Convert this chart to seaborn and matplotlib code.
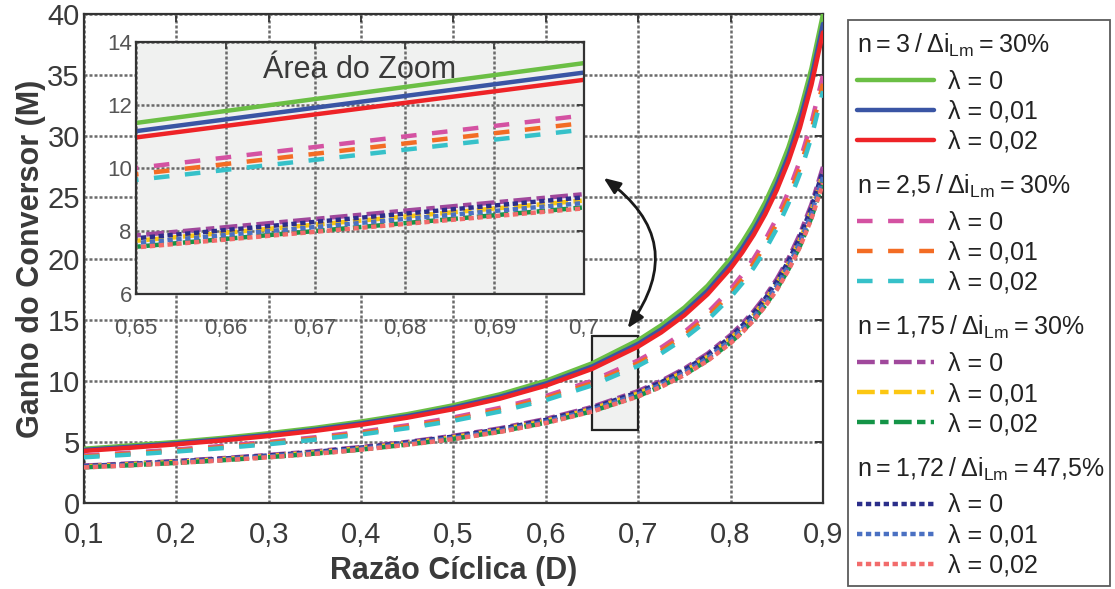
import numpy as np
import pandas as pd
import matplotlib
matplotlib.use("Agg")
import matplotlib.pyplot as plt
import seaborn as sns
from matplotlib.lines import Line2D
from matplotlib.patches import Rectangle
from matplotlib.offsetbox import DrawingArea

# ---------------- data ----------------
D = [0.10, 0.15, 0.20, 0.25, 0.30, 0.35, 0.40, 0.45, 0.50, 0.55, 0.60,
     0.65, 0.70, 0.725, 0.75, 0.775, 0.80, 0.8125, 0.825, 0.8375, 0.85,
     0.8625, 0.875, 0.8875, 0.90]

g1_l0 = [4.44, 4.71, 5.00, 5.33, 5.71, 6.15, 6.67, 7.27, 8.00, 8.89, 10.00, 11.43,
         13.33, 14.55, 16.00, 17.78, 20.00, 21.33, 22.86, 24.62, 26.67, 29.09, 32.00, 35.56, 40.00]
g1_l1 = [4.34, 4.60, 4.89, 5.21, 5.58, 6.01, 6.52, 7.11, 7.82, 8.69, 9.78, 11.17,
         13.03, 14.21, 15.64, 17.37, 19.55, 20.84, 22.33, 24.05, 26.07, 28.42, 31.30, 34.79, 39.20]
g1_l2 = [4.26, 4.52, 4.80, 5.12, 5.48, 5.90, 6.40, 6.98, 7.68, 8.53, 9.60, 10.97,
         12.80, 13.96, 15.36, 17.07, 19.20, 20.48, 21.94, 23.63, 25.60, 27.93, 30.70, 34.20, 38.50]
g2_l0 = [3.89, 4.12, 4.38, 4.67, 5.00, 5.38, 5.83, 6.36, 7.00, 7.78, 8.75, 10.00,
         11.67, 12.73, 14.00, 15.56, 17.50, 18.67, 20.00, 21.54, 23.33, 25.45, 28.00, 31.11, 35.00]
g2_l1 = [3.81, 4.04, 4.29, 4.57, 4.90, 5.28, 5.72, 6.24, 6.86, 7.62, 8.58, 9.80,
         11.43, 12.47, 13.72, 15.24, 17.15, 18.29, 19.60, 21.11, 22.87, 24.95, 27.44, 30.49, 34.30]
g2_l2 = [3.74, 3.96, 4.21, 4.49, 4.81, 5.18, 5.61, 6.12, 6.73, 7.48, 8.42, 9.62,
         11.22, 12.24, 13.47, 14.96, 16.84, 17.96, 19.24, 20.72, 22.44, 24.49, 26.94, 29.93, 33.70]
g3_l0 = [3.06, 3.24, 3.44, 3.67, 3.93, 4.23, 4.58, 5.00, 5.50, 6.11, 6.88, 7.86,
         9.17, 10.00, 11.00, 12.22, 13.75, 14.67, 15.71, 16.92, 18.33, 20.00, 22.00, 24.44, 27.50]
g3_l1 = [2.99, 3.17, 3.36, 3.59, 3.84, 4.14, 4.48, 4.89, 5.38, 5.98, 6.72, 7.69,
         8.97, 9.78, 10.76, 11.95, 13.45, 14.34, 15.37, 16.55, 17.93, 19.56, 21.52, 23.91, 26.90]
g3_l2 = [2.92, 3.09, 3.28, 3.50, 3.75, 4.04, 4.37, 4.78, 5.25, 5.84, 6.57, 7.50,
         8.75, 9.55, 10.50, 11.67, 13.13, 14.00, 15.00, 16.16, 17.51, 19.10, 21.00, 23.34, 26.30]
g4_l0 = [3.02, 3.20, 3.40, 3.63, 3.89, 4.18, 4.53, 4.95, 5.44, 6.04, 6.80, 7.77,
         9.07, 9.89, 10.88, 12.09, 13.60, 14.51, 15.54, 16.74, 18.13, 19.78, 21.76, 24.18, 27.20]
g4_l1 = [2.96, 3.14, 3.33, 3.56, 3.81, 4.10, 4.44, 4.85, 5.33, 5.92, 6.66, 7.62,
         8.89, 9.69, 10.66, 11.85, 13.33, 14.22, 15.23, 16.40, 17.77, 19.39, 21.32, 23.69, 26.66]
g4_l2 = [2.91, 3.08, 3.27, 3.49, 3.74, 4.02, 4.36, 4.76, 5.23, 5.81, 6.54, 7.48,
         8.72, 9.51, 10.47, 11.63, 13.08, 13.95, 14.95, 16.10, 17.44, 19.03, 20.93, 23.26, 26.17]

T = "\u2009"
group_titles = [f"n{T}={T}3{T}/{T}Δi$_{{\\mathregular{{Lm}}}}${T}={T}30%",
                f"n{T}={T}2,5{T}/{T}Δi$_{{\\mathregular{{Lm}}}}${T}={T}30%",
                f"n{T}={T}1,75{T}/{T}Δi$_{{\\mathregular{{Lm}}}}${T}={T}30%",
                f"n{T}={T}1,72{T}/{T}Δi$_{{\\mathregular{{Lm}}}}${T}={T}47,5%"]
lambda_labels = ["λ = 0", "λ = 0,01", "λ = 0,02"]

series_keys = ["g1_l0", "g1_l1", "g1_l2", "g2_l0", "g2_l1", "g2_l2",
               "g3_l0", "g3_l1", "g3_l2", "g4_l0", "g4_l1", "g4_l2"]
series_vals = [g1_l0, g1_l1, g1_l2, g2_l0, g2_l1, g2_l2,
               g3_l0, g3_l1, g3_l2, g4_l0, g4_l1, g4_l2]

xticks_main = [0.1, 0.2, 0.3, 0.4, 0.5, 0.6, 0.7, 0.8, 0.9]
xticklabels_main = ["0,1", "0,2", "0,3", "0,4", "0,5", "0,6", "0,7", "0,8", "0,9"]
yticks_main = [0, 5, 10, 15, 20, 25, 30, 35, 40]
xticks_zoom = [0.65, 0.66, 0.67, 0.68, 0.69, 0.70]
xticklabels_zoom = ["0,65", "0,66", "0,67", "0,68", "0,69", "0,7"]
yticks_zoom = [6, 8, 10, 12, 14]
zoom_box_x = [0.65, 0.70]
zoom_box_y = [6.0, 13.7]

# ---------------- styles ----------------
colors = {
    "g1_l0": "#6bbf45", "g1_l1": "#3a55a4", "g1_l2": "#ee2327",
    "g2_l0": "#d452a2", "g2_l1": "#f36c24", "g2_l2": "#36c1c9",
    "g3_l0": "#a0489c", "g3_l1": "#fcc712", "g3_l2": "#149447",
    "g4_l0": "#2b2e8a", "g4_l1": "#4a70c2", "g4_l2": "#f26b6b",
}
dash_solid = ""
dash_dash = (3.5, 3.5)
dash_dot = (4.0, 1.2, 1.9, 1.2)
dash_dotted = (1.2, 0.8)
dashes = {k: (dash_solid if k.startswith("g1") else dash_dash if k.startswith("g2")
              else dash_dot if k.startswith("g3") else dash_dotted) for k in series_keys}

df = pd.DataFrame({
    "D": np.tile(D, len(series_keys)),
    "M": np.concatenate(series_vals),
    "serie": np.repeat(series_keys, len(D)),
})

sns.set_style("white")
plt.rcParams["font.family"] = ["Liberation Sans", "DejaVu Sans"]
plt.rcParams["mathtext.default"] = "regular"

fig = plt.figure(figsize=(11.15, 5.89), dpi=100)
text_col = "#3a3a3a"
grid_kw = dict(color="#6a6a6a", linestyle=(0, (1.2, 0.8)), linewidth=1.8)

# ---------------- main axes ----------------
ax = fig.add_axes([0.0753, 0.146, 0.6628, 0.830])
ax.add_patch(Rectangle((zoom_box_x[0], zoom_box_y[0]), zoom_box_x[1] - zoom_box_x[0],
                       zoom_box_y[1] - zoom_box_y[0], facecolor="#f0f1f0",
                       edgecolor="#222222", linewidth=1.6, zorder=1.5))
sns.lineplot(data=df, x="D", y="M", hue="serie", style="serie",
             hue_order=series_keys, style_order=series_keys,
             palette=colors, dashes=dashes, linewidth=3.2, legend=False,
             estimator=None, ax=ax, zorder=3)
ax.set_xlim(0.1, 0.9)
ax.set_ylim(0, 40)
ax.set_xticks(xticks_main)
ax.set_xticklabels(xticklabels_main)
ax.set_yticks(yticks_main)
ax.grid(True, **grid_kw)
ax.set_axisbelow(True)
ax.tick_params(direction="in", length=6, width=1.3, top=True, right=True,
               labelsize=21, labelcolor=text_col, color="#333333")
ax.tick_params(axis="x", pad=13)
ax.tick_params(axis="y", pad=3)
for s in ax.spines.values():
    s.set_color("#333333")
    s.set_linewidth(1.6)
ax.set_xlabel("Razão Cíclica (D)", fontsize=22, fontweight="bold", color=text_col, labelpad=5)
ax.set_ylabel("Ganho do Conversor (M)", fontsize=22, fontweight="bold", color=text_col, labelpad=1)

ax.annotate("", xy=(0.6885, 14.3), xytext=(0.6625, 26.6),
            arrowprops=dict(arrowstyle="<|-|>,head_length=1.0,head_width=0.4",
                            connectionstyle="arc3,rad=-0.5", color="#1a1a1a",
                            lw=2.0, shrinkA=0, shrinkB=0), zorder=5)

# ---------------- inset ----------------
axins = fig.add_axes([0.122, 0.5008, 0.4018, 0.4279])
axins.set_facecolor("#f0f1f0")
sns.lineplot(data=df, x="D", y="M", hue="serie", style="serie",
             hue_order=series_keys, style_order=series_keys,
             palette=colors, dashes=dashes, linewidth=3.2, legend=False,
             estimator=None, ax=axins)
axins.set_xlim(0.65, 0.70)
axins.set_ylim(6, 14)
axins.set_xticks(xticks_zoom)
axins.set_xticklabels(xticklabels_zoom)
axins.set_yticks(yticks_zoom)
axins.grid(True, **grid_kw)
axins.set_axisbelow(True)
axins.set_xlabel("")
axins.set_ylabel("")
axins.tick_params(direction="in", length=5, width=1.2, top=True, right=True,
                  labelsize=16, labelcolor="#555555", color="#333333")
axins.tick_params(axis="x", pad=17)
axins.tick_params(axis="y", pad=3)
for s in axins.spines.values():
    s.set_color("#333333")
    s.set_linewidth(1.6)
axins.text(0.6749, 13.1, "Área do Zoom", ha="center", va="center",
           fontsize=22, color=text_col)

# ---------------- legend ----------------
handles, labels, header_rows = [], [], []
for gi, title in enumerate(group_titles):
    header_rows.append(len(handles))
    handles.append(Line2D([], [], linestyle="none"))
    labels.append(title)
    for li in range(3):
        k = series_keys[gi * 3 + li]
        d = dashes[k]
        if d == "":
            h = Line2D([], [], color=colors[k], lw=3.2, linestyle="-", solid_capstyle="round")
        else:
            h = Line2D([], [], color=colors[k], lw=3.2, dashes=d)
        handles.append(h)
        labels.append(lambda_labels[li])

leg = fig.legend(handles, labels, loc="upper left",
                 bbox_to_anchor=(0.7605, 0.0153, 0.2350, 0.9507),
                 bbox_transform=fig.transFigure, mode="expand", borderaxespad=0,
                 fontsize=18, handlelength=3.1, handletextpad=0.55, borderpad=0.35,
                 labelspacing=0.24, frameon=True, fancybox=False, alignment="left")
frame = leg.get_frame()
frame.set_edgecolor("#333333")
frame.set_linewidth(1.3)
for t in leg.get_texts():
    t.set_color("#222222")

renderer = fig.canvas.get_renderer()
pt_per_px = 72.0 / fig.dpi
col = leg._legend_handle_box.get_children()[0]
rows = col.get_children()
for n, i in enumerate(header_rows):
    ta = rows[i].get_children()[1]
    bb = ta.get_bbox(renderer)
    h_pt = bb.height * pt_per_px
    desc_pt = -bb.y0 * pt_per_px
    above = 2.0 if n == 0 else 9.5
    below = 3.5
    spacer = DrawingArea(0, h_pt + above + below, 0, desc_pt + below)
    rows[i]._children = [spacer, ta]
    rows[i].sep = 0

fig.savefig("out.png", dpi=100)
